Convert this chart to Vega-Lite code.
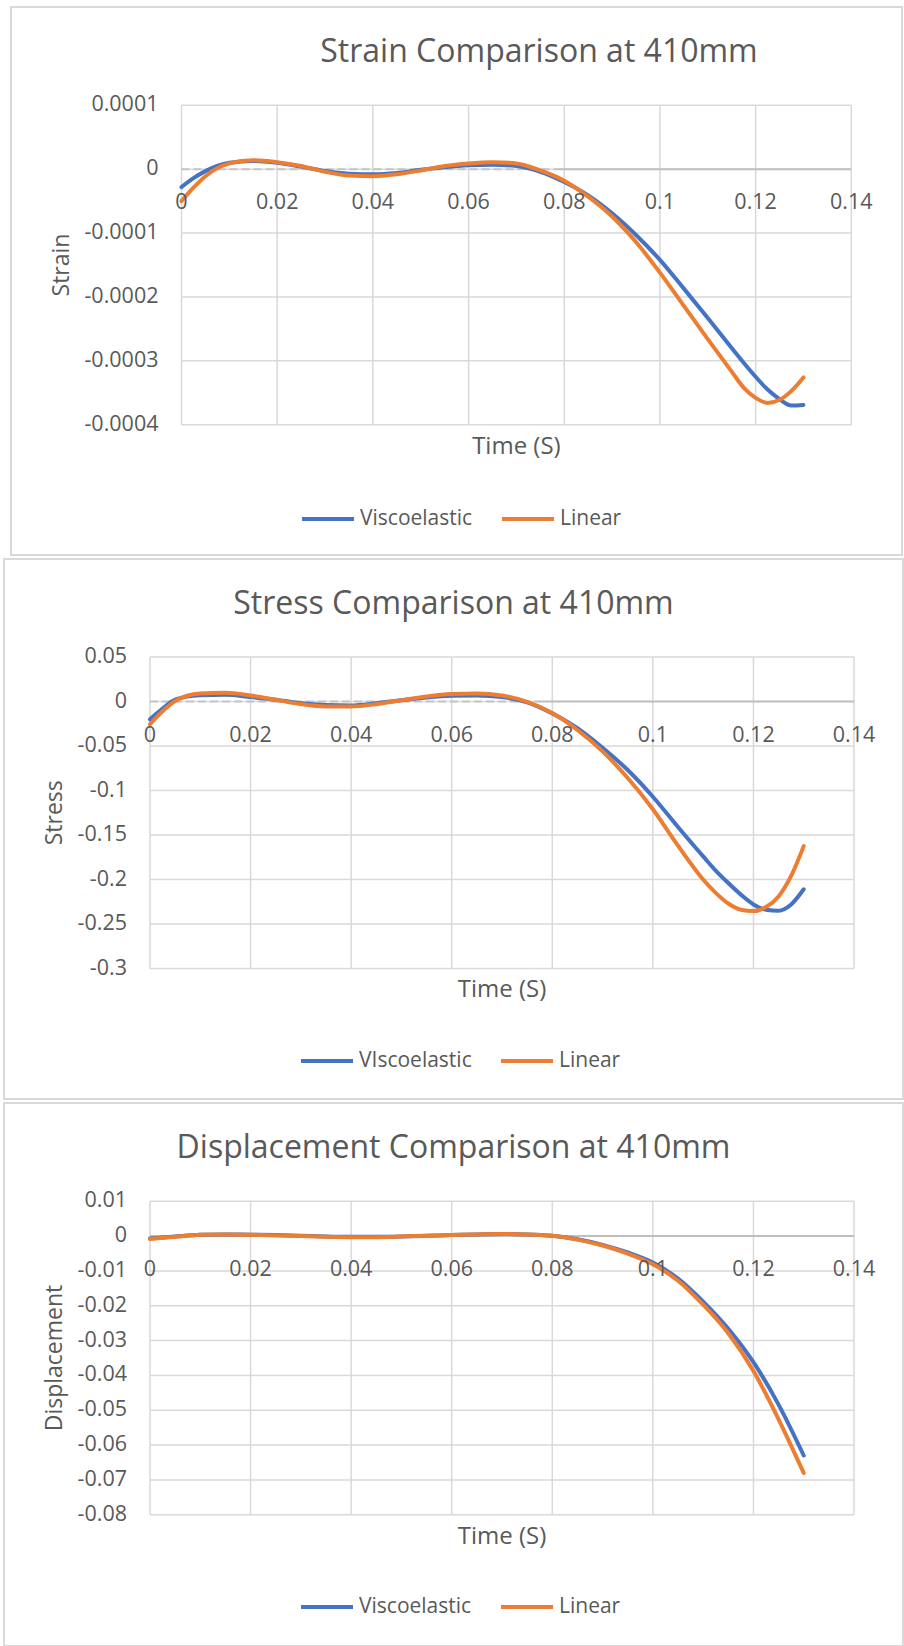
{
  "$schema": "https://vega.github.io/schema/vega-lite/v6.json",
  "padding": {"left": 3, "top": 6, "right": 0, "bottom": 0},
  "background": "white",
  "spacing": 2,
  "config": {
    "view": {"stroke": "#d9d9d9", "strokeWidth": 2},
    "font": "Open Sans",
    "text": {"font": "Open Sans", "color": "#595959", "fontSize": 21.5},
    "legend": {"orient": "none", "direction": "horizontal", "symbolType": "stroke", "symbolSize": 2704, "symbolStrokeWidth": 4, "labelFont": "Open Sans", "labelFontSize": 21, "labelColor": "#595959", "columnPadding": 21, "labelOffset": 4, "padding": 0, "labelLimit": 400},
    "title": {"font": "Open Sans", "fontSize": 32, "fontWeight": "normal", "color": "#595959", "anchor": "middle", "frame": "group", "baseline": "bottom"}
  },
  "resolve": {"scale": {"color": "independent"}, "legend": {"color": "independent"}},
  "datasets": {
    "xticks": [{"t": 0}, {"t": 0.02}, {"t": 0.04}, {"t": 0.06}, {"t": 0.08}, {"t": 0.1}, {"t": 0.12}, {"t": 0.14}],
    "strainTicks": [{"v": 0.0001}, {"v": 0}, {"v": -0.0001}, {"v": -0.0002}, {"v": -0.0003}, {"v": -0.0004}],
    "stressTicks": [{"v": 0.05}, {"v": 0}, {"v": -0.05}, {"v": -0.1}, {"v": -0.15}, {"v": -0.2}, {"v": -0.25}, {"v": -0.3}],
    "dispTicks": [{"v": 0.01}, {"v": 0}, {"v": -0.01}, {"v": -0.02}, {"v": -0.03}, {"v": -0.04}, {"v": -0.05}, {"v": -0.06}, {"v": -0.07}, {"v": -0.08}],
    "strain": [
      {"time": 0, "Viscoelastic": -0.000028, "Linear": -0.000050},
      {"time": 0.0025, "Viscoelastic": -0.000014, "Linear": -0.000029},
      {"time": 0.005, "Viscoelastic": -0.000003, "Linear": -0.000011},
      {"time": 0.01, "Viscoelastic": 0.000010, "Linear": 0.000009},
      {"time": 0.015, "Viscoelastic": 0.000013, "Linear": 0.000014},
      {"time": 0.02, "Viscoelastic": 0.000010, "Linear": 0.000011},
      {"time": 0.025, "Viscoelastic": 0.000004, "Linear": 0.000005},
      {"time": 0.03, "Viscoelastic": -0.000003, "Linear": -0.000004},
      {"time": 0.035, "Viscoelastic": -0.000007, "Linear": -0.000010},
      {"time": 0.04, "Viscoelastic": -0.000008, "Linear": -0.000011},
      {"time": 0.045, "Viscoelastic": -0.000006, "Linear": -0.000008},
      {"time": 0.05, "Viscoelastic": -0.000001, "Linear": -0.000002},
      {"time": 0.055, "Viscoelastic": 0.000003, "Linear": 0.000005},
      {"time": 0.06, "Viscoelastic": 0.000006, "Linear": 0.000009},
      {"time": 0.065, "Viscoelastic": 0.000007, "Linear": 0.000011},
      {"time": 0.07, "Viscoelastic": 0.000005, "Linear": 0.000009},
      {"time": 0.075, "Viscoelastic": -0.000004, "Linear": -0.000002},
      {"time": 0.08, "Viscoelastic": -0.000020, "Linear": -0.000018},
      {"time": 0.085, "Viscoelastic": -0.000041, "Linear": -0.000043},
      {"time": 0.09, "Viscoelastic": -0.000069, "Linear": -0.000074},
      {"time": 0.095, "Viscoelastic": -0.000103, "Linear": -0.000114},
      {"time": 0.1, "Viscoelastic": -0.000142, "Linear": -0.000162},
      {"time": 0.105, "Viscoelastic": -0.000187, "Linear": -0.000214},
      {"time": 0.11, "Viscoelastic": -0.000233, "Linear": -0.000266},
      {"time": 0.115, "Viscoelastic": -0.000280, "Linear": -0.000317},
      {"time": 0.1175, "Viscoelastic": -0.000303, "Linear": -0.000342},
      {"time": 0.12, "Viscoelastic": -0.000325, "Linear": -0.000358},
      {"time": 0.1225, "Viscoelastic": -0.000345, "Linear": -0.000366},
      {"time": 0.125, "Viscoelastic": -0.000360, "Linear": -0.000361},
      {"time": 0.1275, "Viscoelastic": -0.000370, "Linear": -0.000347},
      {"time": 0.13, "Viscoelastic": -0.000369, "Linear": -0.000326}
    ],
    "stress": [
      {"time": 0, "VIscoelastic": -0.020, "Linear": -0.0255},
      {"time": 0.0025, "VIscoelastic": -0.008, "Linear": -0.011},
      {"time": 0.005, "VIscoelastic": 0.002, "Linear": 0.0005},
      {"time": 0.01, "VIscoelastic": 0.007, "Linear": 0.009},
      {"time": 0.015, "VIscoelastic": 0.0075, "Linear": 0.0098},
      {"time": 0.02, "VIscoelastic": 0.005, "Linear": 0.0068},
      {"time": 0.025, "VIscoelastic": 0.002, "Linear": 0.002},
      {"time": 0.03, "VIscoelastic": -0.002, "Linear": -0.003},
      {"time": 0.035, "VIscoelastic": -0.004, "Linear": -0.0056},
      {"time": 0.04, "VIscoelastic": -0.0045, "Linear": -0.0056},
      {"time": 0.045, "VIscoelastic": -0.002, "Linear": -0.003},
      {"time": 0.05, "VIscoelastic": 0.0015, "Linear": 0.0015},
      {"time": 0.055, "VIscoelastic": 0.0045, "Linear": 0.0056},
      {"time": 0.06, "VIscoelastic": 0.0064, "Linear": 0.0083},
      {"time": 0.065, "VIscoelastic": 0.0068, "Linear": 0.009},
      {"time": 0.07, "VIscoelastic": 0.005, "Linear": 0.0068},
      {"time": 0.075, "VIscoelastic": -0.001, "Linear": -0.0004},
      {"time": 0.08, "VIscoelastic": -0.0135, "Linear": -0.013},
      {"time": 0.085, "VIscoelastic": -0.030, "Linear": -0.032},
      {"time": 0.09, "VIscoelastic": -0.052, "Linear": -0.056},
      {"time": 0.095, "VIscoelastic": -0.077, "Linear": -0.086},
      {"time": 0.1, "VIscoelastic": -0.107, "Linear": -0.121},
      {"time": 0.105, "VIscoelastic": -0.141, "Linear": -0.162},
      {"time": 0.11, "VIscoelastic": -0.174, "Linear": -0.200},
      {"time": 0.1125, "VIscoelastic": -0.190, "Linear": -0.215},
      {"time": 0.115, "VIscoelastic": -0.204, "Linear": -0.227},
      {"time": 0.1175, "VIscoelastic": -0.217, "Linear": -0.234},
      {"time": 0.12, "VIscoelastic": -0.228, "Linear": -0.2355},
      {"time": 0.1225, "VIscoelastic": -0.234, "Linear": -0.231},
      {"time": 0.125, "VIscoelastic": -0.235, "Linear": -0.219},
      {"time": 0.1275, "VIscoelastic": -0.228, "Linear": -0.196},
      {"time": 0.13, "VIscoelastic": -0.211, "Linear": -0.1625}
    ],
    "displacement": [
      {"time": 0, "Viscoelastic": -0.0007, "Linear": -0.0008},
      {"time": 0.005, "Viscoelastic": -0.0001, "Linear": -0.0002},
      {"time": 0.01, "Viscoelastic": 0.0004, "Linear": 0.0004},
      {"time": 0.015, "Viscoelastic": 0.0005, "Linear": 0.0005},
      {"time": 0.02, "Viscoelastic": 0.0004, "Linear": 0.0004},
      {"time": 0.025, "Viscoelastic": 0.0003, "Linear": 0.0002},
      {"time": 0.03, "Viscoelastic": 0.0001, "Linear": 0.0},
      {"time": 0.035, "Viscoelastic": -0.0001, "Linear": -0.0002},
      {"time": 0.04, "Viscoelastic": -0.0002, "Linear": -0.0003},
      {"time": 0.045, "Viscoelastic": -0.0002, "Linear": -0.0003},
      {"time": 0.05, "Viscoelastic": -0.0001, "Linear": -0.0001},
      {"time": 0.055, "Viscoelastic": 0.0001, "Linear": 0.0001},
      {"time": 0.06, "Viscoelastic": 0.0003, "Linear": 0.0003},
      {"time": 0.065, "Viscoelastic": 0.0005, "Linear": 0.0005},
      {"time": 0.07, "Viscoelastic": 0.0006, "Linear": 0.0006},
      {"time": 0.075, "Viscoelastic": 0.0005, "Linear": 0.0005},
      {"time": 0.08, "Viscoelastic": 0.0001, "Linear": 0.0001},
      {"time": 0.085, "Viscoelastic": -0.0009, "Linear": -0.0010},
      {"time": 0.09, "Viscoelastic": -0.0025, "Linear": -0.0027},
      {"time": 0.095, "Viscoelastic": -0.0047, "Linear": -0.0050},
      {"time": 0.1, "Viscoelastic": -0.0076, "Linear": -0.0081},
      {"time": 0.105, "Viscoelastic": -0.0122, "Linear": -0.0128},
      {"time": 0.11, "Viscoelastic": -0.0188, "Linear": -0.0197},
      {"time": 0.115, "Viscoelastic": -0.0266, "Linear": -0.0279},
      {"time": 0.12, "Viscoelastic": -0.0362, "Linear": -0.0387},
      {"time": 0.125, "Viscoelastic": -0.0484, "Linear": -0.0526},
      {"time": 0.13, "Viscoelastic": -0.0630, "Linear": -0.0680}
    ]
  },
  "vconcat": [
    {
      "spacing": 5,
      "resolve": {"scale": {"color": "independent"}, "legend": {"color": "independent"}},
      "hconcat": [
        {
          "width": 1,
          "height": 548,
          "view": {"stroke": null},
          "data": {"values": []},
          "mark": {"type": "point", "opacity": 0}
        },
        {
          "width": 891,
          "height": 548,
          "title": {"text": "Strain Comparison at 410mm", "offset": -62, "dx": 82.5},
          "layer": [
            {
              "data": {"name": "xticks"},
              "mark": {"type": "rule", "color": "#d9d9d9", "strokeWidth": 1.5},
              "encoding": {
                "x": {"field": "t", "type": "quantitative", "scale": {"domain": [0, 0.14], "range": [170.5, 840.3], "nice": false, "zero": false}, "axis": null},
                "y": {"datum": -0.0004, "type": "quantitative", "scale": {"domain": [-0.0004, 0.0001], "range": [417.7, 98.3], "nice": false, "zero": false}, "axis": null},
                "y2": {"datum": 0.0001}
              }
            },
            {
              "data": {"name": "strainTicks"},
              "mark": {"type": "rule", "color": "#d9d9d9", "strokeWidth": 1.5},
              "encoding": {
                "y": {"field": "v", "type": "quantitative", "scale": {"domain": [-0.0004, 0.0001], "range": [417.7, 98.3], "nice": false, "zero": false}, "axis": null},
                "x": {"datum": 0, "type": "quantitative", "scale": {"domain": [0, 0.14], "range": [170.5, 840.3], "nice": false, "zero": false}, "axis": null},
                "x2": {"datum": 0.14}
              }
            },
            {
              "data": {"values": [{"from": 0, "to": 0.078}]},
              "mark": {"type": "rule", "color": "#c4c4c4", "strokeWidth": 2, "strokeDash": [8, 4]},
              "encoding": {
                "x": {"field": "from", "type": "quantitative", "scale": {"domain": [0, 0.14], "range": [170.5, 840.3], "nice": false, "zero": false}, "axis": null},
                "x2": {"field": "to"},
                "y": {"datum": 0, "type": "quantitative", "scale": {"domain": [-0.0004, 0.0001], "range": [417.7, 98.3], "nice": false, "zero": false}, "axis": null}
              }
            },
            {
              "data": {"values": [{"from": 0.078, "to": 0.14}]},
              "mark": {"type": "rule", "color": "#bfbfbf", "strokeWidth": 2},
              "encoding": {
                "x": {"field": "from", "type": "quantitative", "scale": {"domain": [0, 0.14], "range": [170.5, 840.3], "nice": false, "zero": false}, "axis": null},
                "x2": {"field": "to"},
                "y": {"datum": 0, "type": "quantitative", "scale": {"domain": [-0.0004, 0.0001], "range": [417.7, 98.3], "nice": false, "zero": false}, "axis": null}
              }
            },
            {
              "data": {"name": "strain"},
              "transform": [{"fold": ["Viscoelastic", "Linear"], "as": ["series", "value"]}],
              "mark": {"type": "line", "strokeWidth": 4, "interpolate": "monotone", "strokeCap": "round"},
              "encoding": {
                "x": {"field": "time", "type": "quantitative", "scale": {"domain": [0, 0.14], "range": [170.5, 840.3], "nice": false, "zero": false}, "axis": null},
                "y": {"field": "value", "type": "quantitative", "scale": {"domain": [-0.0004, 0.0001], "range": [417.7, 98.3], "nice": false, "zero": false}, "axis": null},
                "color": {"field": "series", "type": "nominal", "sort": null, "scale": {"domain": ["Viscoelastic", "Linear"], "range": ["#4472C4", "#ED7D31"]},
                          "legend": {"title": null, "legendX": 289, "legendY": 484}}
              }
            },
            {
              "data": {"name": "xticks"},
              "mark": {"type": "text", "align": "center", "baseline": "top", "dy": 23},
              "encoding": {
                "x": {"field": "t", "type": "quantitative", "scale": {"domain": [0, 0.14], "range": [170.5, 840.3], "nice": false, "zero": false}, "axis": null},
                "y": {"datum": 0, "type": "quantitative", "scale": {"domain": [-0.0004, 0.0001], "range": [417.7, 98.3], "nice": false, "zero": false}, "axis": null},
                "text": {"field": "t", "type": "nominal"}
              }
            },
            {
              "data": {"name": "strainTicks"},
              "mark": {"type": "text", "align": "right", "baseline": "middle", "dx": -23},
              "encoding": {
                "y": {"field": "v", "type": "quantitative", "scale": {"domain": [-0.0004, 0.0001], "range": [417.7, 98.3], "nice": false, "zero": false}, "axis": null},
                "x": {"datum": 0, "type": "quantitative", "scale": {"domain": [0, 0.14], "range": [170.5, 840.3], "nice": false, "zero": false}, "axis": null},
                "text": {"field": "v", "type": "nominal"}
              }
            },
            {
              "data": {"values": [{"label": "Time (S)"}]},
              "mark": {"type": "text", "align": "center", "baseline": "middle", "dy": 22.3, "fontSize": 24},
              "encoding": {
                "x": {"datum": 0.07, "type": "quantitative", "scale": {"domain": [0, 0.14], "range": [170.5, 840.3], "nice": false, "zero": false}, "axis": null},
                "y": {"datum": -0.0004, "type": "quantitative", "scale": {"domain": [-0.0004, 0.0001], "range": [417.7, 98.3], "nice": false, "zero": false}, "axis": null},
                "text": {"field": "label", "type": "nominal"}
              }
            },
            {
              "data": {"values": [{"label": "Strain"}]},
              "mark": {"type": "text", "align": "center", "baseline": "middle", "angle": 270, "dy": -119.5, "fontSize": 23},
              "encoding": {
                "x": {"datum": 0, "type": "quantitative", "scale": {"domain": [0, 0.14], "range": [170.5, 840.3], "nice": false, "zero": false}, "axis": null},
                "y": {"datum": -0.00015, "type": "quantitative", "scale": {"domain": [-0.0004, 0.0001], "range": [417.7, 98.3], "nice": false, "zero": false}, "axis": null},
                "text": {"field": "label", "type": "nominal"}
              }
            }
          ]
        }
      ]
    },
    {
      "width": 899,
      "height": 540,
      "title": {"text": "Stress Comparison at 410mm", "offset": -62, "dx": 0},
      "layer": [
        {
          "data": {"name": "xticks"},
          "mark": {"type": "rule", "color": "#d9d9d9", "strokeWidth": 1.5},
          "encoding": {
            "x": {"field": "t", "type": "quantitative", "scale": {"domain": [0, 0.14], "range": [146, 850], "nice": false, "zero": false}, "axis": null},
            "y": {"datum": -0.3, "type": "quantitative", "scale": {"domain": [-0.3, 0.05], "range": [409.5, 98], "nice": false, "zero": false}, "axis": null},
            "y2": {"datum": 0.05}
          }
        },
        {
          "data": {"name": "stressTicks"},
          "mark": {"type": "rule", "color": "#d9d9d9", "strokeWidth": 1.5},
          "encoding": {
            "y": {"field": "v", "type": "quantitative", "scale": {"domain": [-0.3, 0.05], "range": [409.5, 98], "nice": false, "zero": false}, "axis": null},
            "x": {"datum": 0, "type": "quantitative", "scale": {"domain": [0, 0.14], "range": [146, 850], "nice": false, "zero": false}, "axis": null},
            "x2": {"datum": 0.14}
          }
        },
        {
          "data": {"values": [{"from": 0, "to": 0.077}]},
          "mark": {"type": "rule", "color": "#c4c4c4", "strokeWidth": 2, "strokeDash": [8, 4]},
          "encoding": {
            "x": {"field": "from", "type": "quantitative", "scale": {"domain": [0, 0.14], "range": [146, 850], "nice": false, "zero": false}, "axis": null},
            "x2": {"field": "to"},
            "y": {"datum": 0, "type": "quantitative", "scale": {"domain": [-0.3, 0.05], "range": [409.5, 98], "nice": false, "zero": false}, "axis": null}
          }
        },
        {
          "data": {"values": [{"from": 0.077, "to": 0.14}]},
          "mark": {"type": "rule", "color": "#bfbfbf", "strokeWidth": 2},
          "encoding": {
            "x": {"field": "from", "type": "quantitative", "scale": {"domain": [0, 0.14], "range": [146, 850], "nice": false, "zero": false}, "axis": null},
            "x2": {"field": "to"},
            "y": {"datum": 0, "type": "quantitative", "scale": {"domain": [-0.3, 0.05], "range": [409.5, 98], "nice": false, "zero": false}, "axis": null}
          }
        },
        {
          "data": {"name": "stress"},
          "transform": [{"fold": ["VIscoelastic", "Linear"], "as": ["series", "value"]}],
          "mark": {"type": "line", "strokeWidth": 4, "interpolate": "monotone", "strokeCap": "round"},
          "encoding": {
            "x": {"field": "time", "type": "quantitative", "scale": {"domain": [0, 0.14], "range": [146, 850], "nice": false, "zero": false}, "axis": null},
            "y": {"field": "value", "type": "quantitative", "scale": {"domain": [-0.3, 0.05], "range": [409.5, 98], "nice": false, "zero": false}, "axis": null},
            "color": {"field": "series", "type": "nominal", "sort": null, "scale": {"domain": ["VIscoelastic", "Linear"], "range": ["#4472C4", "#ED7D31"]},
                      "legend": {"title": null, "legendX": 295, "legendY": 474}}
          }
        },
        {
          "data": {"name": "xticks"},
          "mark": {"type": "text", "align": "center", "baseline": "top", "dy": 23},
          "encoding": {
            "x": {"field": "t", "type": "quantitative", "scale": {"domain": [0, 0.14], "range": [146, 850], "nice": false, "zero": false}, "axis": null},
            "y": {"datum": 0, "type": "quantitative", "scale": {"domain": [-0.3, 0.05], "range": [409.5, 98], "nice": false, "zero": false}, "axis": null},
            "text": {"field": "t", "type": "nominal"}
          }
        },
        {
          "data": {"name": "stressTicks"},
          "mark": {"type": "text", "align": "right", "baseline": "middle", "dx": -23},
          "encoding": {
            "y": {"field": "v", "type": "quantitative", "scale": {"domain": [-0.3, 0.05], "range": [409.5, 98], "nice": false, "zero": false}, "axis": null},
            "x": {"datum": 0, "type": "quantitative", "scale": {"domain": [0, 0.14], "range": [146, 850], "nice": false, "zero": false}, "axis": null},
            "text": {"field": "v", "type": "nominal"}
          }
        },
        {
          "data": {"values": [{"label": "Time (S)"}]},
          "mark": {"type": "text", "align": "center", "baseline": "middle", "dy": 21.5, "fontSize": 24},
          "encoding": {
            "x": {"datum": 0.07, "type": "quantitative", "scale": {"domain": [0, 0.14], "range": [146, 850], "nice": false, "zero": false}, "axis": null},
            "y": {"datum": -0.3, "type": "quantitative", "scale": {"domain": [-0.3, 0.05], "range": [409.5, 98], "nice": false, "zero": false}, "axis": null},
            "text": {"field": "label", "type": "nominal"}
          }
        },
        {
          "data": {"values": [{"label": "Stress"}]},
          "mark": {"type": "text", "align": "center", "baseline": "middle", "angle": 270, "dy": -95, "fontSize": 23},
          "encoding": {
            "x": {"datum": 0, "type": "quantitative", "scale": {"domain": [0, 0.14], "range": [146, 850], "nice": false, "zero": false}, "axis": null},
            "y": {"datum": -0.125, "type": "quantitative", "scale": {"domain": [-0.3, 0.05], "range": [409.5, 98], "nice": false, "zero": false}, "axis": null},
            "text": {"field": "label", "type": "nominal"}
          }
        }
      ]
    },
    {
      "width": 899,
      "height": 543,
      "title": {"text": "Displacement Comparison at 410mm", "offset": -62, "dx": 0},
      "layer": [
        {
          "data": {"name": "xticks"},
          "mark": {"type": "rule", "color": "#d9d9d9", "strokeWidth": 1.5},
          "encoding": {
            "x": {"field": "t", "type": "quantitative", "scale": {"domain": [0, 0.14], "range": [146, 850], "nice": false, "zero": false}, "axis": null},
            "y": {"datum": -0.08, "type": "quantitative", "scale": {"domain": [-0.08, 0.01], "range": [411.7, 98.3], "nice": false, "zero": false}, "axis": null},
            "y2": {"datum": 0.01}
          }
        },
        {
          "data": {"name": "dispTicks"},
          "mark": {"type": "rule", "color": "#d9d9d9", "strokeWidth": 1.5},
          "encoding": {
            "y": {"field": "v", "type": "quantitative", "scale": {"domain": [-0.08, 0.01], "range": [411.7, 98.3], "nice": false, "zero": false}, "axis": null},
            "x": {"datum": 0, "type": "quantitative", "scale": {"domain": [0, 0.14], "range": [146, 850], "nice": false, "zero": false}, "axis": null},
            "x2": {"datum": 0.14}
          }
        },
        {
          "data": {"values": [{"from": 0, "to": 0.14}]},
          "mark": {"type": "rule", "color": "#bfbfbf", "strokeWidth": 2},
          "encoding": {
            "x": {"field": "from", "type": "quantitative", "scale": {"domain": [0, 0.14], "range": [146, 850], "nice": false, "zero": false}, "axis": null},
            "x2": {"field": "to"},
            "y": {"datum": 0, "type": "quantitative", "scale": {"domain": [-0.08, 0.01], "range": [411.7, 98.3], "nice": false, "zero": false}, "axis": null}
          }
        },
        {
          "data": {"name": "displacement"},
          "transform": [{"fold": ["Viscoelastic", "Linear"], "as": ["series", "value"]}],
          "mark": {"type": "line", "strokeWidth": 4, "interpolate": "monotone", "strokeCap": "round"},
          "encoding": {
            "x": {"field": "time", "type": "quantitative", "scale": {"domain": [0, 0.14], "range": [146, 850], "nice": false, "zero": false}, "axis": null},
            "y": {"field": "value", "type": "quantitative", "scale": {"domain": [-0.08, 0.01], "range": [411.7, 98.3], "nice": false, "zero": false}, "axis": null},
            "color": {"field": "series", "type": "nominal", "sort": null, "scale": {"domain": ["Viscoelastic", "Linear"], "range": ["#4472C4", "#ED7D31"]},
                      "legend": {"title": null, "legendX": 295, "legendY": 476}}
          }
        },
        {
          "data": {"name": "xticks"},
          "mark": {"type": "text", "align": "center", "baseline": "top", "dy": 23},
          "encoding": {
            "x": {"field": "t", "type": "quantitative", "scale": {"domain": [0, 0.14], "range": [146, 850], "nice": false, "zero": false}, "axis": null},
            "y": {"datum": 0, "type": "quantitative", "scale": {"domain": [-0.08, 0.01], "range": [411.7, 98.3], "nice": false, "zero": false}, "axis": null},
            "text": {"field": "t", "type": "nominal"}
          }
        },
        {
          "data": {"name": "dispTicks"},
          "mark": {"type": "text", "align": "right", "baseline": "middle", "dx": -23},
          "encoding": {
            "y": {"field": "v", "type": "quantitative", "scale": {"domain": [-0.08, 0.01], "range": [411.7, 98.3], "nice": false, "zero": false}, "axis": null},
            "x": {"datum": 0, "type": "quantitative", "scale": {"domain": [0, 0.14], "range": [146, 850], "nice": false, "zero": false}, "axis": null},
            "text": {"field": "v", "type": "nominal"}
          }
        },
        {
          "data": {"values": [{"label": "Time (S)"}]},
          "mark": {"type": "text", "align": "center", "baseline": "middle", "dy": 22.3, "fontSize": 24},
          "encoding": {
            "x": {"datum": 0.07, "type": "quantitative", "scale": {"domain": [0, 0.14], "range": [146, 850], "nice": false, "zero": false}, "axis": null},
            "y": {"datum": -0.08, "type": "quantitative", "scale": {"domain": [-0.08, 0.01], "range": [411.7, 98.3], "nice": false, "zero": false}, "axis": null},
            "text": {"field": "label", "type": "nominal"}
          }
        },
        {
          "data": {"values": [{"label": "Displacement"}]},
          "mark": {"type": "text", "align": "center", "baseline": "middle", "angle": 270, "dy": -95, "fontSize": 23},
          "encoding": {
            "x": {"datum": 0, "type": "quantitative", "scale": {"domain": [0, 0.14], "range": [146, 850], "nice": false, "zero": false}, "axis": null},
            "y": {"datum": -0.035, "type": "quantitative", "scale": {"domain": [-0.08, 0.01], "range": [411.7, 98.3], "nice": false, "zero": false}, "axis": null},
            "text": {"field": "label", "type": "nominal"}
          }
        }
      ]
    }
  ]
}
